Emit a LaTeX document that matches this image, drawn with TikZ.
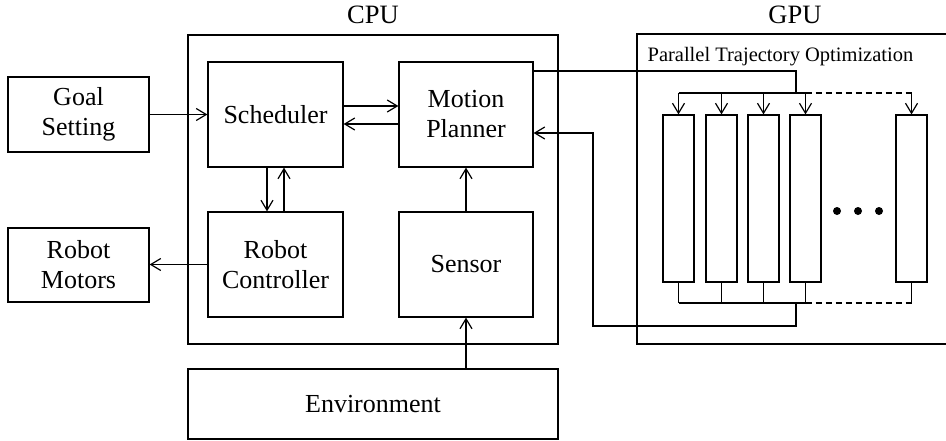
\documentclass[tikz,border=0pt]{standalone}
\usepackage{fontspec}
\setmainfont{Liberation Serif}
\usetikzlibrary{arrows.meta,calc}
\begin{document}
\begin{tikzpicture}[x=1pt,y=-1pt,line width=1.2pt,
  blk/.style={draw,line width=1.2pt,inner sep=0pt,align=center,
    font=\fontsize{26}{30}\selectfont},
  col/.style={draw,line width=1.2pt,inner sep=0pt,minimum width=31pt,minimum height=167pt},
  arr/.style={-{Straight Barb[length=10pt,width=12pt]}},
  dsh/.style={dash pattern=on 6pt off 4pt},
  lbl/.style={font=\fontsize{26.5}{30}\selectfont,inner sep=0pt}]
\useasboundingbox (0,0) rectangle (946,440);
\clip (0,0) rectangle (946,440);
% containers
\node[blk,minimum width=370pt,minimum height=309pt] (cpu) at (373,189.5) {};
\node[blk,minimum width=316pt,minimum height=310pt] (gpu) at (795,189) {};
\node[lbl,anchor=base] (cpul) at (373,23) {CPU};
\node[lbl,anchor=base] (gpul) at (795,23.5) {GPU};
\node[inner sep=0pt,anchor=base west,font=\fontsize{20.5}{24}\selectfont] (pto) at (647,61) {Parallel Trajectory Optimization};
% blocks
\node[blk,minimum width=141pt,minimum height=75pt] (goal) at (78.5,114.5) {Goal\\Setting};
\node[blk,minimum width=141pt,minimum height=74pt] (motors) at (78.5,265) {Robot\\Motors};
\node[blk,minimum width=135pt,minimum height=105pt] (sched) at (275.5,114.5) {Scheduler};
\node[blk,minimum width=134pt,minimum height=105pt] (mp) at (466,114.5) {Motion\\Planner};
\node[blk,minimum width=135pt,minimum height=105pt] (rc) at (275.5,264.5) {Robot\\Controller};
\node[blk,minimum width=134pt,minimum height=105pt] (sensor) at (466,264.5) {Sensor};
\node[blk,minimum width=370pt,minimum height=70pt] (env) at (373,404) {Environment};
% GPU columns
\node[col] (c1) at (678.5,198.5) {};
\node[col] (c2) at (721.5,198.5) {};
\node[col] (c3) at (763.5,198.5) {};
\node[col] (c4) at (805.5,198.5) {};
\node[col] (c5) at (911.5,198.5) {};
\fill (837,211) circle (4pt) (858,211) circle (4pt) (879,211) circle (4pt);
% CPU connectors
\draw[arr] (goal.east) -- (sched.west);
\draw[arr] (rc.west) -- (motors.east |- rc.west);
\draw[arr] ([yshift=8.5pt]sched.east) -- ([yshift=8.5pt]mp.west);
\draw[arr] ([yshift=-9.5pt]mp.west) -- ([yshift=-9.5pt]sched.east);
\draw[arr] ([xshift=-8.5pt]sched.south) -- ([xshift=-8.5pt]rc.north);
\draw[arr] ([xshift=8.5pt]rc.north) -- ([xshift=8.5pt]sched.south);
\draw[arr] (sensor.north) -- (mp.south);
\draw[arr] (env.north -| sensor.south) -- (sensor.south);
% GPU fan-out
\coordinate (bustop) at (796,93);
\coordinate (busbot) at (796,303);
\coordinate (ret) at (593,326);
\draw ([yshift=43.5pt]mp.east) -| (bustop);
\draw (c1.north |- bustop) -- (c4.north |- bustop);
\draw[dsh] (c4.north |- bustop) -- (c5.north |- bustop);
\foreach \c in {c1,c2,c3,c4,c5} {
  \draw[arr] (\c.north |- bustop) -- (\c.north);
  \draw (\c.south) -- (\c.south |- busbot);
}
\draw (c1.south |- busbot) -- (c4.south |- busbot);
\draw[dsh] (c4.south |- busbot) -- (c5.south |- busbot);
\draw[arr] (busbot) |- (ret) |- ([yshift=-18.5pt]mp.east);
\end{tikzpicture}
\end{document}
